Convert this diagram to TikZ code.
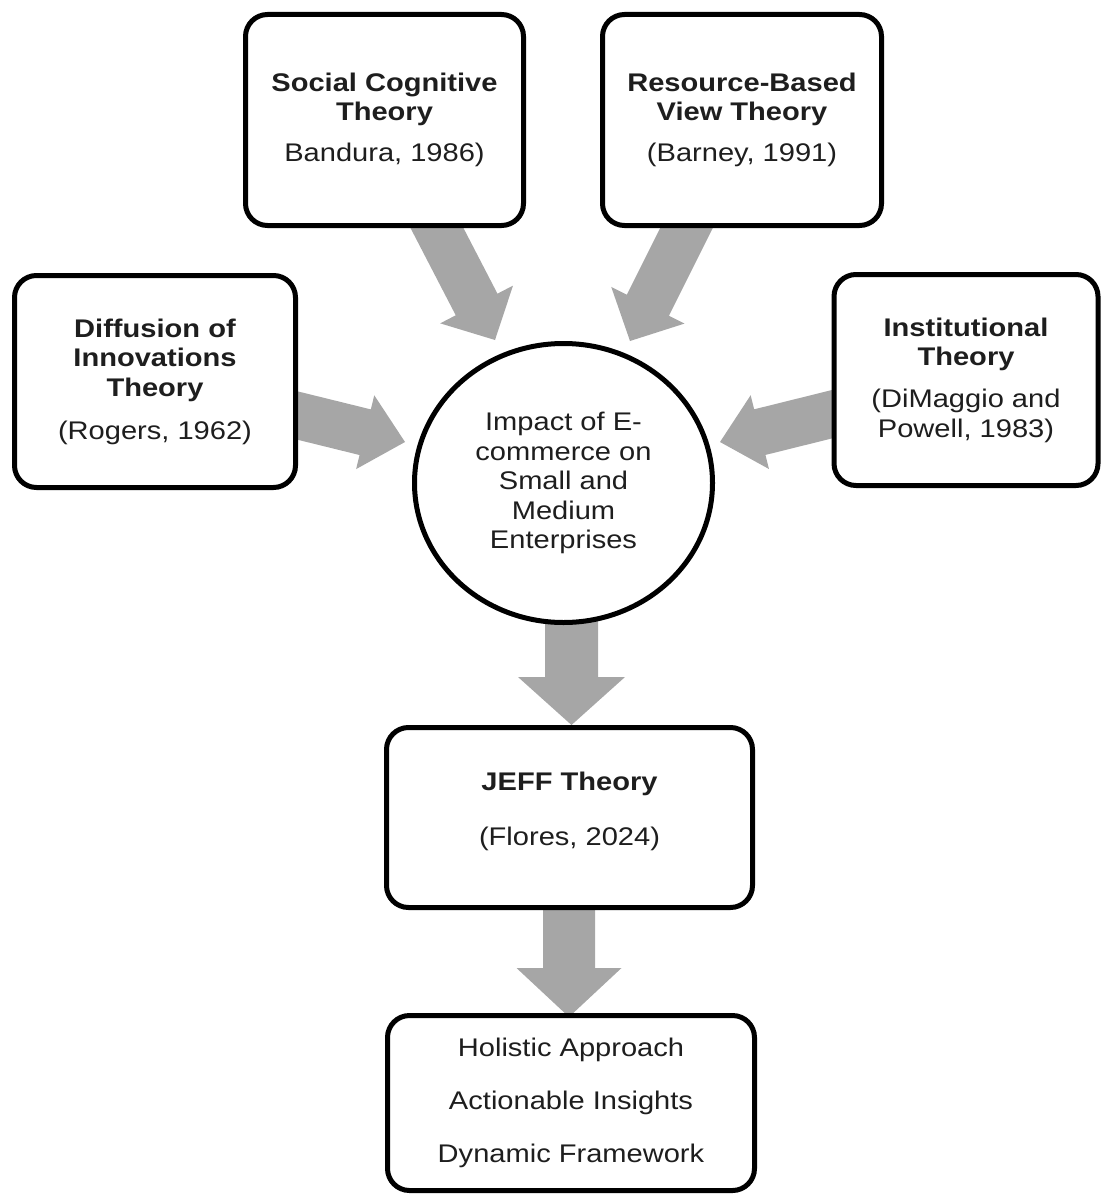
\documentclass[tikz,border=0pt]{standalone}
\usepackage{fontspec}
\setmainfont{Liberation Sans}[FakeStretch=1.14]
\usetikzlibrary{calc,shapes.geometric}
\definecolor{arrowgray}{RGB}{166,166,166}
\definecolor{txtgray}{RGB}{30,30,30}
\newcommand\fatarrow[5]{%
  \coordinate (fa-hb) at ($(#2)!#5!(#1)$);
  \fill[arrowgray] ($(#1)!#3!90:(#2)$) -- ($(fa-hb)!#3!90:(#2)$) -- ($(fa-hb)!#4!90:(#2)$) -- (#2)
    -- ($(fa-hb)!#4!-90:(#2)$) -- ($(fa-hb)!#3!-90:(#2)$) -- ($(#1)!#3!-90:(#2)$) -- cycle;
}
\tikzset{
  theorybox/.style={draw=black, fill=white, line width=5pt, rounded corners=22pt,
    align=center, inner sep=0pt, text=txtgray,
    font=\fontsize{25.5}{29.5}\selectfont},
  hub/.style={ellipse, draw=black, fill=white, line width=5pt, inner sep=0pt,
    align=center, text=txtgray, font=\fontsize{25.5}{29.5}\selectfont},
}
\begin{document}
\begin{tikzpicture}[x=1pt,y=-1pt]
\useasboundingbox (0,0) rectangle (1101,1196);
% arrow end points
\coordinate (s1) at (424,203);   \coordinate (e1) at (495,340);
\coordinate (s2) at (699,203);   \coordinate (e2) at (630,341);
\coordinate (s3) at (271,409);   \coordinate (e3) at (405,442);
\coordinate (s4) at (857,408);   \coordinate (e4) at (720,442);
\coordinate (s5) at (571.5,600); \coordinate (e5) at (571.5,725);
\coordinate (s6) at (569,890);   \coordinate (e6) at (569,1017);
% arrows (drawn first, boxes cover their tails)
\fatarrow{s1}{e1}{23.5pt}{41pt}{40pt}
\fatarrow{s2}{e2}{23.5pt}{41pt}{40pt}
\fatarrow{s3}{e3}{23.5pt}{38pt}{41pt}
\fatarrow{s4}{e4}{23.5pt}{38pt}{41pt}
\fatarrow{s5}{e5}{26.5pt}{53.5pt}{48pt}
\fatarrow{s6}{e6}{26pt}{52.5pt}{49pt}
% nodes
\node[theorybox, minimum width=278pt, minimum height=211pt] (soc) at (384.5,120)
  {\textbf{Social Cognitive}\\ \textbf{Theory}\\[11.5pt] Bandura, 1986)};
\node[theorybox, minimum width=279pt, minimum height=211pt] (res) at (742,120)
  {\textbf{Resource-Based}\\ \textbf{View Theory}\\[11.5pt] (Barney, 1991)};
\node[theorybox, minimum width=281pt, minimum height=212pt] (dif) at (155,381.5)
  {\textbf{Diffusion of}\\ \textbf{Innovations}\\ \textbf{Theory}\\[13.5pt] (Rogers, 1962)};
\node[theorybox, minimum width=264pt, minimum height=211pt] (ins) at (966,380)
  {\textbf{Institutional}\\ \textbf{Theory}\\[12.5pt] (DiMaggio and\\ Powell, 1983)};
\node[hub, minimum width=298pt, minimum height=279pt] (hub) at (563.5,483)
  {Impact of E-\\ commerce on\\ Small and\\ Medium\\ Enterprises};
\node[theorybox, minimum width=366pt, minimum height=180pt] (jeff) at (569.5,817.5)
  {\textbf{JEFF Theory}\\[25.5pt] (Flores, 2024)\\[-13pt]\mbox{}};
\node[theorybox, minimum width=367pt, minimum height=175pt] (out) at (571,1103)
  {Holistic Approach\\[23.5pt] Actionable Insights\\[23.5pt] Dynamic Framework};
\end{tikzpicture}
\end{document}
